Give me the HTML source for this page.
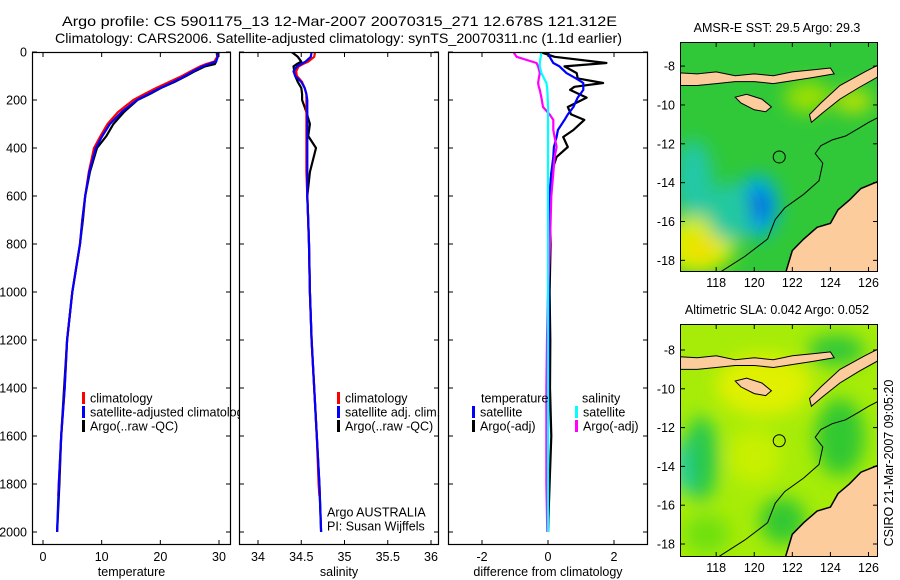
<!DOCTYPE html>
<html><head><meta charset="utf-8"><title>Argo profile</title>
<style>
html,body{margin:0;padding:0;background:#fff;}
svg{display:block;font-family:"Liberation Sans",sans-serif;}
text{font-size:12.5px;fill:#000;}
</style></head>
<body>
<svg id="fig" width="900" height="580" viewBox="0 0 900 580" xmlns="http://www.w3.org/2000/svg">
<defs>
<filter id="blur1" x="-50%" y="-50%" width="200%" height="200%"><feGaussianBlur stdDeviation="9"/></filter>
<clipPath id="cp1"><rect x="32" y="52" width="199" height="493"/></clipPath>
<clipPath id="cp2"><rect x="239" y="52" width="200" height="493"/></clipPath>
<clipPath id="cp3"><rect x="448" y="52" width="200" height="493"/></clipPath>
<clipPath id="cpm1"><rect x="680" y="42" width="198" height="230"/></clipPath>
<clipPath id="cpm2"><rect x="680" y="324" width="198" height="233"/></clipPath>
</defs>
<text x="62" y="26" textLength="555" lengthAdjust="spacingAndGlyphs" style="font-size:14px">Argo profile: CS 5901175_13 12-Mar-2007 20070315_271 12.678S 121.312E</text>
<text x="55" y="43" textLength="567" lengthAdjust="spacingAndGlyphs" style="font-size:14px">Climatology: CARS2006. Satellite-adjusted climatology: synTS_20070311.nc (1.1d earlier)</text>
<g id="panels"></g>
<g id="maps"></g>
<text transform="translate(893,463) rotate(-90)" text-anchor="middle">CSIRO 21-Mar-2007 09:05:20</text>
</svg>
<script>
// ---------- profile data ----------
const depthClim = [0,20,40,50,60,80,100,125,150,175,200,250,300,350,400,500,600,700,800,1000,1200,1400,1600,1800,1850];
const tempClim  = [29.8,29.7,29.2,27.8,26.8,25.2,23.7,21.5,19.3,17.3,15.4,12.8,11.0,9.8,8.7,7.8,7.2,6.7,6.3,5.0,4.1,3.7,3.1,2.7,2.6];
const depthSat  = [0,20,40,50,60,80,100,125,150,175,200,250,300,350,400,500,600,700,800,1000,1200,1400,1600,1800,2000];
const tempSat   = [29.8,29.8,29.5,28.3,27.2,25.6,24.2,22.2,20.0,18.0,16.0,13.4,11.4,10.1,9.0,7.9,7.2,6.7,6.3,5.0,4.1,3.7,3.1,2.7,2.4];
const depthArgo = [0,20,40,50,60,80,100,125,150,175,200,250,300,350,400,500,600,700,800,1000,1200,1400,1600,1800,2000];
const tempArgo  = [29.6,29.7,29.5,29.3,27.6,25.9,24.4,22.4,20.1,18.2,16.1,13.8,12.0,10.8,9.2,8.0,7.2,6.8,6.3,5.0,4.1,3.6,3.1,2.8,2.4];
const salClim   = [34.66,34.65,34.58,34.52,34.47,34.44,34.45,34.51,34.54,34.56,34.56,34.56,34.56,34.56,34.56,34.56,34.57,34.58,34.59,34.6,34.62,34.65,34.68,34.7,34.71];
const salSat    = [34.62,34.61,34.55,34.5,34.45,34.41,34.43,34.5,34.54,34.56,34.57,34.57,34.57,34.57,34.57,34.57,34.57,34.58,34.59,34.6,34.62,34.65,34.68,34.71,34.73];
const salArgo   = [34.39,34.46,34.5,34.45,34.41,34.42,34.43,34.46,34.5,34.51,34.51,34.56,34.6,34.58,34.67,34.6,34.57,34.58,34.59,34.6,34.62,34.65,34.68,34.71,34.73];
// ---------- difference data ----------
const diffDepth  = [0,20,46,60,88,110,129,145,158,190,229,260,283,325,354,396,437,504,600,800,1000,1200,1400,1600,1800,2000];
const dTempSat   = [0,0.05,0.16,0.35,0.56,0.85,1.07,1.07,1.07,0.9,0.77,0.6,0.5,0.3,0.26,0.18,0.16,0.1,0.05,0.03,0.02,0.02,0.01,0.0,0.0,0.0];
const dTempArgo  = [-0.25,0.2,1.77,0.5,0.87,0.9,1.67,0.8,0.67,1.17,0.6,0.7,1.1,0.77,0.46,0.6,0.26,0.1,0.05,0.08,0.05,0.07,0.06,0.1,0.05,0.0];
const dSalSat    = [-0.2,-0.22,-0.25,-0.25,-0.2,-0.12,-0.05,-0.03,-0.02,-0.01,0,0,0,0,0,0,0,0,0,0,0,0,0,0,0,0];
const dSalArgo   = [-1.05,-0.95,-0.35,-0.3,-0.25,-0.28,-0.3,-0.28,-0.25,-0.2,-0.15,0.05,0.16,0.16,0.2,0.26,0.2,0.16,0.1,0.06,0.0,-0.03,-0.05,-0.05,-0.05,-0.02];
// ---------- ticks ----------
const depthTicks = [0,200,400,600,800,1000,1200,1400,1600,1800,2000];
const tempTicks  = [0,10,20,30];
const salTicks   = [34,34.5,35,35.5,36];
const salTickLabels = ["34","34.5","35","35.5","36"];
const diffTicks  = [-2,0,2];
const lonTicks   = [118,120,122,124,126];
const latTicks   = [-8,-10,-12,-14,-16,-18];

const NS = "http://www.w3.org/2000/svg";
function mk(tag, attrs, parent){
  const e = document.createElementNS(NS, tag);
  for (const k in attrs) e.setAttribute(k, attrs[k]);
  if (parent) parent.appendChild(e);
  return e;
}
const yTop = 52, yBot = 545;
function yScale(d){ return 52 + d * 0.24; }
function linScale(v0, p0, v1, p1){ return v => p0 + (v - v0) / (v1 - v0) * (p1 - p0); }

const panelsG = document.getElementById('panels');

function panel(cfg){
  const g = mk('g', {}, panelsG);
  
  
  const bg = mk('rect', {x:cfg.x0, y:yTop, width:cfg.x1-cfg.x0, height:yBot-yTop, fill:'#fff'}, g);
  
  
  const sx = cfg.sx;
  const sg = mk('g', {'clip-path':'url(#' + cfg.clip + ')'}, g);
  cfg.series.forEach(s => {
    let pts = s.vals.map((v,i) => sx(v).toFixed(1) + ',' + yScale(s.depth[i]).toFixed(1)).join(' ');
    const pl = mk('polyline', {points:pts, fill:'none', stroke:s.color, 'stroke-width':s.w || 2.2, 'stroke-linejoin':'round'}, sg);
    
    
  });
  const box = mk('rect', {x:cfg.x0+0.5, y:yTop+0.5, width:cfg.x1-cfg.x0-1, height:yBot-yTop-1, fill:'none', stroke:'#000', 'stroke-width':1.2}, g);
  
  
  depthTicks.forEach(d => {
    const y = yScale(d);
    mk('line', {x1:cfg.x0, x2:cfg.x0+5, y1:y, y2:y, stroke:'#000'}, g);
    mk('line', {x1:cfg.x1-5, x2:cfg.x1, y1:y, y2:y, stroke:'#000'}, g);
    if (cfg.yLabels){
      const t = mk('text', {x:cfg.x0-5, y:y+4.5, 'text-anchor':'end'}, g);
      t.textContent = d;
      
      
    }
  });
  cfg.xticks.forEach((v,i) => {
    const x = sx(v);
    mk('line', {x1:x, x2:x, y1:yBot, y2:yBot-5, stroke:'#000'}, g);
    mk('line', {x1:x, x2:x, y1:yTop, y2:yTop+5, stroke:'#000'}, g);
    const t = mk('text', {x:x, y:561, 'text-anchor':'middle'}, g);
    t.textContent = cfg.xlabels ? cfg.xlabels[i] : v;
    
    
  });
  const xt = mk('text', {x:(cfg.x0+cfg.x1)/2, y:576, 'text-anchor':'middle'}, g);
  xt.textContent = cfg.xtitle;
  
  
  (cfg.legend || []).forEach(L => {
    if (L.color){
      const b = mk('rect', {x:L.x, y:L.y-6, width:3, height:12, fill:L.color}, g);
      
      
    }
    const t = mk('text', {x:L.x + (L.color ? 8 : 0), y:L.y+4.5}, g);
    t.textContent = L.text;
    
    
  });
  return g;
}

panel({name:'temperature-panel', x0:32, x1:231, clip:'cp1', sx:linScale(0,43,30,219), yLabels:true,
  xticks:tempTicks, xtitle:'temperature',
  series:[
    {name:'argo-temperature-line', depth:depthArgo, vals:tempArgo, color:'#000'},
    {name:'climatology-temperature-line', depth:depthClim, vals:tempClim, color:'#f00'},
    {name:'satellite-temperature-line', depth:depthSat, vals:tempSat, color:'#00f'}],
  legend:[{x:82,y:398,color:'#f00',text:'climatology'},{x:82,y:412,color:'#00f',text:'satellite-adjusted climatology'},{x:82,y:426,color:'#000',text:'Argo(..raw -QC)'}]
});
panel({name:'salinity-panel', x0:239, x1:439, clip:'cp2', sx:linScale(34,258,36,431), yLabels:false,
  xticks:salTicks, xlabels:salTickLabels, xtitle:'salinity',
  series:[
    {name:'argo-salinity-line', depth:depthArgo, vals:salArgo, color:'#000'},
    {name:'climatology-salinity-line', depth:depthClim, vals:salClim, color:'#f00'},
    {name:'satellite-salinity-line', depth:depthSat, vals:salSat, color:'#00f'}],
  legend:[{x:337,y:398,color:'#f00',text:'climatology'},{x:337,y:412,color:'#00f',text:'satellite adj. clim.'},{x:337,y:426,color:'#000',text:'Argo(..raw -QC)'},
          {x:327,y:512,text:'Argo AUSTRALIA'},{x:327,y:526,text:'PI: Susan Wijffels'}]
});
panel({name:'difference-panel', x0:448, x1:648, clip:'cp3', sx:linScale(-2,482,2,614), yLabels:false,
  xticks:diffTicks, xtitle:'difference from climatology',
  series:[
    {name:'argo-temp-diff-line', depth:diffDepth, vals:dTempArgo, color:'#000'},
    {name:'satellite-temp-diff-line', depth:diffDepth, vals:dTempSat, color:'#00f'},
    {name:'argo-sal-diff-line', depth:diffDepth, vals:dSalArgo, color:'#f0f'},
    {name:'satellite-sal-diff-line', depth:diffDepth, vals:dSalSat, color:'#0ff'}],
  legend:[{x:481,y:398,text:'temperature'},{x:472,y:412,color:'#00f',text:'satellite'},{x:472,y:426,color:'#000',text:'Argo(-adj)'},
          {x:582,y:398,text:'salinity'},{x:575,y:412,color:'#0ff',text:'satellite'},{x:575,y:426,color:'#f0f',text:'Argo(-adj)'}]
});

// ---------- maps ----------
const mapsG = document.getElementById('maps');
const mapTitles = ['AMSR-E SST: 29.5 Argo: 29.3', 'Altimetric SLA: 0.042 Argo: 0.052'];
const landLombok = [[116.1,-8.35],[117,-8.4],[118,-8.3],[119,-8.5],[120,-8.4],[121,-8.5],[122,-8.3],[123,-8.2],[124,-8.1],[124.2,-8.4],[123,-8.6],[121,-8.9],[120,-8.8],[119,-8.8],[118,-8.9],[117,-9.0],[116.1,-9.0]];
const landSumba = [[119.0,-9.6],[119.6,-9.45],[120.4,-9.7],[120.9,-10.1],[120.6,-10.35],[120.0,-10.25],[119.3,-9.9]];
const landTimor = [[123.0,-10.9],[123.6,-10.4],[124.5,-9.7],[125.5,-9.1],[126.6,-8.5],[126.6,-7.9],[125.8,-8.3],[124.5,-9.0],[123.5,-9.9],[122.9,-10.5]];
const landAus   = [[121.6,-18.8],[122.0,-17.5],[122.6,-16.9],[123.3,-16.3],[124.0,-16.1],[124.4,-15.4],[125.0,-14.9],[125.6,-14.3],[126.6,-13.9],[126.7,-18.8]];
const isobath   = [[117.9,-18.8],[119.5,-17.8],[120.7,-16.9],[121.1,-15.9],[121.6,-15.3],[122.6,-14.6],[123.4,-13.9],[123.6,-13.0],[123.2,-12.5],[123.5,-12.1],[124.1,-11.8],[124.8,-11.6],[125.5,-11.2],[126.0,-10.9],[126.6,-10.6]];
const argoPos   = [121.312,-12.678];
const sstBlobs  = [[117.0,-17.2,2.0,1.5,'#d8ef00'],[117.2,-17.4,0.9,0.7,'#f0e000'],[120.2,-15.2,1.1,1.6,'#00b0e8'],[120.2,-15.2,0.6,0.8,'#0050e0'],[116.8,-13.8,1.0,2.0,'#22c8a8'],[118.7,-15.5,1.2,1.5,'#22c8a0'],[122.8,-9.6,1.2,0.8,'#9ee000'],[125.2,-9.8,1.0,0.6,'#c0e400']];
const slaBlobs  = [[116.3,-14.0,0.5,1.3,'#20d0d0'],[117.2,-13.6,0.9,2.2,'#28c850'],[120.5,-9.8,2.5,1.6,'#e0f000'],[120.0,-13.5,1.4,1.4,'#c8f000'],[117.5,-17.5,1.2,1.0,'#70e010'],[121.5,-16.8,1.2,1.2,'#30c830'],[124.5,-12.5,1.3,2.0,'#30c830'],[124.3,-8.0,1.5,0.8,'#30c838']];

function drawMap(mi, top, bot, latTop, latBot, base, blobs){
  const g = mk('g', {}, mapsG);
  
  
  const px = linScale(116.1, 680, 126.5, 878);
  const py = linScale(latTop, top, latBot, bot);
  const clip = mk('g', {'clip-path':'url(#cpm' + (mi+1) + ')'}, g);
  mk('rect', {x:680, y:top, width:198, height:bot-top, fill:base}, clip);
  const bg = mk('g', {filter:'url(#blur1)'}, clip);
  blobs.forEach(b => {
    const e = mk('ellipse', {cx:px(b[0]), cy:py(b[1]), rx:b[2]*19, ry:b[3]*19.4, fill:b[4]}, bg);
    
    
  });
  const poly = (arr, fill, stroke, w, name) => {
    const p = mk(fill === 'none' ? 'polyline' : 'polygon', {points:arr.map(q => px(q[0]).toFixed(1)+','+py(q[1]).toFixed(1)).join(' '), fill:fill, stroke:stroke, 'stroke-width':w}, clip);
    
    
  };
  poly(landLombok, '#fccc9c', '#000', 1, 'land-nusa-tenggara');
  poly(landSumba, '#fccc9c', '#000', 1, 'land-sumba');
  poly(landTimor, '#fccc9c', '#000', 1, 'land-timor');
  poly(landAus, '#fccc9c', '#000', 1.5, 'land-australia');
  poly(isobath, 'none', '#000', 1, 'isobath-contour');
  const c = mk('circle', {cx:px(argoPos[0]), cy:py(argoPos[1]), r:6, fill:'none', stroke:'#000', 'stroke-width':1}, clip);
  
  
  const fr = mk('rect', {x:680.5, y:top+0.5, width:197, height:bot-top-1, fill:'none', stroke:'#000'}, g);
  
  
  lonTicks.forEach(l => {
    const x = px(l);
    mk('line', {x1:x, x2:x, y1:bot, y2:bot-5, stroke:'#000'}, g);
    mk('line', {x1:x, x2:x, y1:top, y2:top+5, stroke:'#000'}, g);
    const t = mk('text', {x:x, y:bot+15, 'text-anchor':'middle'}, g);
    t.textContent = l;
    
    
  });
  latTicks.forEach(l => {
    const y = py(l);
    mk('line', {x1:680, x2:685, y1:y, y2:y, stroke:'#000'}, g);
    mk('line', {x1:873, x2:878, y1:y, y2:y, stroke:'#000'}, g);
    const t = mk('text', {x:675, y:y+4.5, 'text-anchor':'end'}, g);
    t.textContent = l;
    
    
  });
  const tt = mk('text', {x:777, y:top-10, 'text-anchor':'middle'}, g);
  tt.textContent = mapTitles[mi];
  
  
}
drawMap(0, 42, 272, -6.76, -18.6, '#30c838', sstBlobs);
drawMap(1, 324, 557, -6.66, -18.67, '#a6ec08', slaBlobs);
</script>
</body></html>
